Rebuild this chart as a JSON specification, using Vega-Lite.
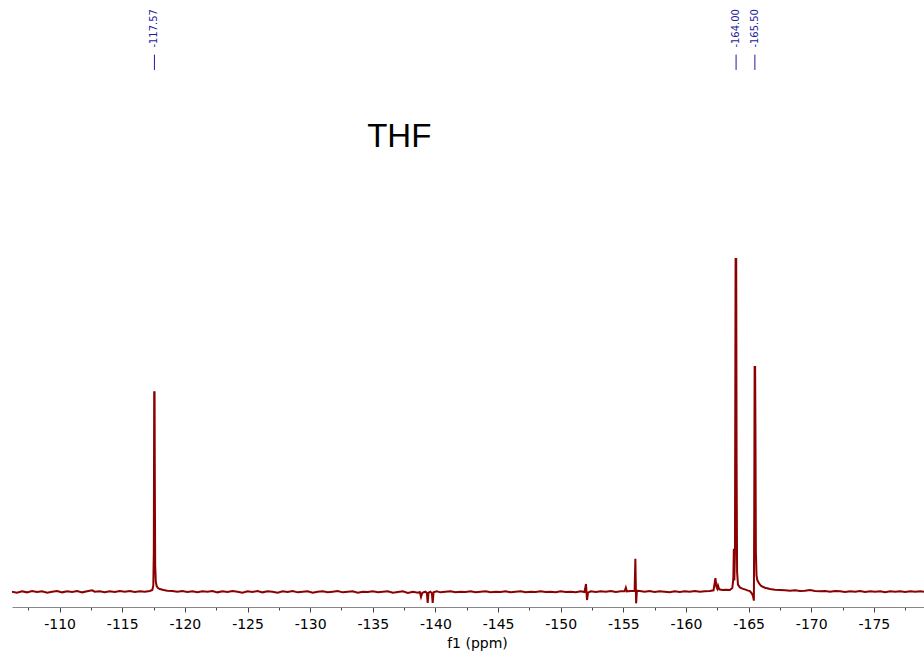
{
  "$schema": "https://vega.github.io/schema/vega-lite/v6.json",
  "autosize": "none",
  "width": 912,
  "height": 607,
  "padding": {"left": 12, "top": 0, "right": 0, "bottom": 47},
  "background": "white",
  "config": {
    "view": {"stroke": null},
    "axisX": {
      "grid": false,
      "domainColor": "#888888",
      "domainWidth": 1,
      "tickColor": "#444444",
      "tickWidth": 1,
      "labelFont": "DejaVu Sans",
      "labelFontSize": 14,
      "labelColor": "#000000",
      "labelPadding": 5,
      "labelOverlap": false,
      "titleFont": "DejaVu Sans",
      "titleFontSize": 14,
      "titleFontWeight": "normal",
      "titleColor": "#000000",
      "titleX": 465,
      "titleY": 36,
      "titleAlign": "center",
      "titleBaseline": "middle"
    }
  },
  "datasets": {
    "spectrum": [
      {"ppm": -106.2, "i": 0.1}, {"ppm": -106.6, "i": -0.2}, {"ppm": -107.0, "i": 0.2}, {"ppm": -107.4, "i": -0.1},
      {"ppm": -107.8, "i": 0.3}, {"ppm": -108.2, "i": 0.0}, {"ppm": -108.6, "i": 0.2}, {"ppm": -109.0, "i": -0.2},
      {"ppm": -109.4, "i": 0.1}, {"ppm": -109.8, "i": 0.3}, {"ppm": -110.2, "i": -0.1}, {"ppm": -110.6, "i": 0.2},
      {"ppm": -111.0, "i": 0.0}, {"ppm": -111.4, "i": 0.3}, {"ppm": -111.8, "i": -0.1}, {"ppm": -112.2, "i": 0.2},
      {"ppm": -112.6, "i": 0.5}, {"ppm": -112.8, "i": 0.1}, {"ppm": -113.2, "i": 0.2}, {"ppm": -113.6, "i": -0.1},
      {"ppm": -114.0, "i": 0.2}, {"ppm": -114.4, "i": 0.0}, {"ppm": -114.8, "i": 0.3}, {"ppm": -115.2, "i": 0.1},
      {"ppm": -115.6, "i": 0.3}, {"ppm": -116.0, "i": 0.0}, {"ppm": -116.4, "i": 0.2}, {"ppm": -116.8, "i": 0.1},
      {"ppm": -117.2, "i": 0.3}, {"ppm": -117.4, "i": 0.6}, {"ppm": -117.48, "i": 2}, {"ppm": -117.52, "i": 12},
      {"ppm": -117.55, "i": 60}, {"ppm": -117.58, "i": 60}, {"ppm": -117.6, "i": 35}, {"ppm": -117.63, "i": 8},
      {"ppm": -117.68, "i": 3}, {"ppm": -117.75, "i": 1.8}, {"ppm": -117.85, "i": 1.2}, {"ppm": -118.0, "i": 0.9},
      {"ppm": -118.3, "i": 0.6}, {"ppm": -118.6, "i": 0.4}, {"ppm": -119.0, "i": 0.3}, {"ppm": -119.4, "i": 0.1},
      {"ppm": -119.8, "i": 0.3}, {"ppm": -120.2, "i": 0.0}, {"ppm": -120.6, "i": 0.2}, {"ppm": -121.0, "i": -0.1},
      {"ppm": -121.4, "i": 0.2}, {"ppm": -121.8, "i": 0.1}, {"ppm": -122.2, "i": 0.3}, {"ppm": -122.6, "i": -0.1},
      {"ppm": -123.0, "i": 0.2}, {"ppm": -123.4, "i": 0.0}, {"ppm": -123.8, "i": 0.3}, {"ppm": -124.2, "i": 0.1},
      {"ppm": -124.6, "i": -0.2}, {"ppm": -125.0, "i": 0.2}, {"ppm": -125.4, "i": 0.0}, {"ppm": -125.8, "i": 0.3},
      {"ppm": -126.2, "i": -0.1}, {"ppm": -126.6, "i": 0.2}, {"ppm": -127.0, "i": 0.1}, {"ppm": -127.4, "i": -0.2},
      {"ppm": -127.8, "i": 0.2}, {"ppm": -128.2, "i": 0.0}, {"ppm": -128.6, "i": 0.3}, {"ppm": -129.0, "i": -0.1},
      {"ppm": -129.4, "i": 0.1}, {"ppm": -129.8, "i": 0.2}, {"ppm": -130.2, "i": -0.2}, {"ppm": -130.6, "i": 0.1},
      {"ppm": -131.0, "i": 0.2}, {"ppm": -131.4, "i": -0.1}, {"ppm": -131.8, "i": 0.1}, {"ppm": -132.2, "i": 0.3},
      {"ppm": -132.6, "i": -0.1}, {"ppm": -133.0, "i": 0.1}, {"ppm": -133.4, "i": 0.2}, {"ppm": -133.8, "i": -0.2},
      {"ppm": -134.2, "i": 0.1}, {"ppm": -134.6, "i": 0.0}, {"ppm": -135.0, "i": 0.2}, {"ppm": -135.4, "i": -0.1},
      {"ppm": -135.8, "i": 0.1}, {"ppm": -136.2, "i": 0.2}, {"ppm": -136.6, "i": -0.2}, {"ppm": -137.0, "i": 0.0},
      {"ppm": -137.4, "i": 0.2}, {"ppm": -137.8, "i": -0.3}, {"ppm": -138.2, "i": 0.1}, {"ppm": -138.6, "i": -0.2},
      {"ppm": -138.75, "i": 0.0}, {"ppm": -138.85, "i": -1.5}, {"ppm": -138.95, "i": -0.2}, {"ppm": -139.2, "i": 0.1},
      {"ppm": -139.32, "i": -0.3}, {"ppm": -139.38, "i": -3.3}, {"ppm": -139.45, "i": -0.2}, {"ppm": -139.6, "i": 0.1},
      {"ppm": -139.72, "i": -0.4}, {"ppm": -139.78, "i": -3.3}, {"ppm": -139.85, "i": -0.1}, {"ppm": -140.1, "i": 0.2},
      {"ppm": -140.4, "i": -0.1}, {"ppm": -140.8, "i": 0.1}, {"ppm": -141.2, "i": 0.2}, {"ppm": -141.6, "i": -0.1},
      {"ppm": -142.0, "i": 0.1}, {"ppm": -142.4, "i": 0.0}, {"ppm": -142.8, "i": 0.2}, {"ppm": -143.2, "i": -0.1},
      {"ppm": -143.6, "i": 0.1}, {"ppm": -144.0, "i": 0.2}, {"ppm": -144.4, "i": -0.1}, {"ppm": -144.8, "i": 0.1},
      {"ppm": -145.2, "i": 0.0}, {"ppm": -145.6, "i": 0.2}, {"ppm": -146.0, "i": -0.1}, {"ppm": -146.4, "i": 0.1},
      {"ppm": -146.8, "i": 0.2}, {"ppm": -147.2, "i": -0.1}, {"ppm": -147.6, "i": 0.1}, {"ppm": -148.0, "i": 0.0},
      {"ppm": -148.4, "i": 0.2}, {"ppm": -148.8, "i": 0.0}, {"ppm": -149.2, "i": 0.1}, {"ppm": -149.6, "i": -0.1},
      {"ppm": -150.0, "i": 0.2}, {"ppm": -150.4, "i": 0.0}, {"ppm": -150.8, "i": 0.1}, {"ppm": -151.2, "i": -0.1},
      {"ppm": -151.6, "i": 0.2}, {"ppm": -151.9, "i": 0.0}, {"ppm": -152.02, "i": 2.4}, {"ppm": -152.1, "i": -2.4},
      {"ppm": -152.18, "i": -0.2}, {"ppm": -152.4, "i": 0.2}, {"ppm": -152.8, "i": 0.0}, {"ppm": -153.2, "i": 0.2},
      {"ppm": -153.6, "i": 0.1}, {"ppm": -154.0, "i": 0.3}, {"ppm": -154.4, "i": 0.0}, {"ppm": -154.8, "i": 0.2},
      {"ppm": -155.1, "i": 0.2}, {"ppm": -155.2, "i": 1.3}, {"ppm": -155.28, "i": 0.2}, {"ppm": -155.6, "i": 0.3},
      {"ppm": -155.9, "i": 0.3}, {"ppm": -155.96, "i": 10}, {"ppm": -156.02, "i": -3.4}, {"ppm": -156.08, "i": 0.4},
      {"ppm": -156.3, "i": 0.3}, {"ppm": -156.7, "i": 0.1}, {"ppm": -157.1, "i": 0.3}, {"ppm": -157.5, "i": 0.0},
      {"ppm": -157.9, "i": 0.2}, {"ppm": -158.3, "i": 0.1}, {"ppm": -158.7, "i": -0.1}, {"ppm": -159.1, "i": 0.2},
      {"ppm": -159.5, "i": 0.0}, {"ppm": -159.9, "i": 0.2}, {"ppm": -160.3, "i": 0.1}, {"ppm": -160.7, "i": 0.3},
      {"ppm": -161.1, "i": 0.1}, {"ppm": -161.5, "i": 0.2}, {"ppm": -161.9, "i": 0.3}, {"ppm": -162.2, "i": 0.5},
      {"ppm": -162.35, "i": 4.2}, {"ppm": -162.43, "i": 1.6}, {"ppm": -162.5, "i": 1.0}, {"ppm": -162.56, "i": 1.9},
      {"ppm": -162.65, "i": 0.8}, {"ppm": -162.9, "i": 0.6}, {"ppm": -163.2, "i": 0.7}, {"ppm": -163.5, "i": 0.6},
      {"ppm": -163.7, "i": 1.2}, {"ppm": -163.78, "i": 4}, {"ppm": -163.82, "i": 13}, {"ppm": -163.86, "i": 3.5},
      {"ppm": -163.91, "i": 12}, {"ppm": -163.96, "i": 100}, {"ppm": -164.01, "i": 100}, {"ppm": -164.04, "i": 40},
      {"ppm": -164.08, "i": 6}, {"ppm": -164.15, "i": 2.2}, {"ppm": -164.3, "i": 1.4}, {"ppm": -164.5, "i": 1.0},
      {"ppm": -164.7, "i": 0.8}, {"ppm": -164.9, "i": 0.5}, {"ppm": -165.1, "i": 0.3}, {"ppm": -165.25, "i": -0.4},
      {"ppm": -165.35, "i": -1.2}, {"ppm": -165.42, "i": -2.6}, {"ppm": -165.45, "i": 25}, {"ppm": -165.48, "i": 67.6},
      {"ppm": -165.52, "i": 67.6}, {"ppm": -165.55, "i": 45}, {"ppm": -165.58, "i": 12}, {"ppm": -165.63, "i": 5},
      {"ppm": -165.7, "i": 3.5}, {"ppm": -165.85, "i": 2.5}, {"ppm": -166.0, "i": 1.8}, {"ppm": -166.3, "i": 1.3},
      {"ppm": -166.7, "i": 0.9}, {"ppm": -167.1, "i": 0.7}, {"ppm": -167.5, "i": 0.6}, {"ppm": -167.9, "i": 0.5},
      {"ppm": -168.3, "i": 0.4}, {"ppm": -168.7, "i": 0.5}, {"ppm": -169.1, "i": 0.3}, {"ppm": -169.5, "i": 0.4},
      {"ppm": -169.9, "i": 0.6}, {"ppm": -170.3, "i": 0.3}, {"ppm": -170.7, "i": 0.2}, {"ppm": -171.1, "i": 0.3},
      {"ppm": -171.5, "i": 0.1}, {"ppm": -171.9, "i": 0.3}, {"ppm": -172.3, "i": 0.2}, {"ppm": -172.7, "i": 0.0},
      {"ppm": -173.1, "i": 0.2}, {"ppm": -173.5, "i": 0.1}, {"ppm": -173.9, "i": 0.3}, {"ppm": -174.3, "i": 0.0},
      {"ppm": -174.7, "i": 0.2}, {"ppm": -175.1, "i": 0.1}, {"ppm": -175.5, "i": 0.2}, {"ppm": -175.9, "i": -0.1},
      {"ppm": -176.3, "i": 0.2}, {"ppm": -176.7, "i": 0.1}, {"ppm": -177.1, "i": 0.2}, {"ppm": -177.5, "i": 0.0},
      {"ppm": -177.9, "i": 0.2}, {"ppm": -178.3, "i": 0.1}, {"ppm": -178.7, "i": 0.2}, {"ppm": -179.0, "i": 0.1}
    ],
    "peaks": [
      {"ppm": -117.57, "label": "-117.57"},
      {"ppm": -164.0, "label": "-164.00"},
      {"ppm": -165.5, "label": "-165.50"}
    ],
    "notes": [{"note": "THF"}]
  },
  "layer": [
    {
      "data": {"name": "spectrum"},
      "mark": {"type": "line", "color": "#8b0000", "strokeWidth": 2, "clip": true},
      "encoding": {
        "x": {
          "field": "ppm",
          "type": "quantitative",
          "scale": {"domain": [-179, -106.2], "reverse": true, "nice": false, "zero": false},
          "axis": {
            "title": "f1 (ppm)",
            "values": [-107.5, -110, -112.5, -115, -117.5, -120, -122.5, -125, -127.5, -130, -132.5, -135, -137.5, -140, -142.5, -145, -147.5, -150, -152.5, -155, -157.5, -160, -162.5, -165, -167.5, -170, -172.5, -175, -177.5],
            "labelExpr": "datum.value % 5 === 0 ? toString(datum.value) : ''",
            "tickSize": {"condition": {"test": "datum.value % 5 === 0", "value": 5}, "value": 3}
          }
        },
        "y": {
          "field": "i",
          "type": "quantitative",
          "scale": {"domain": [-4.5, 177.8], "nice": false, "zero": false},
          "axis": null
        }
      }
    },
    {
      "data": {"name": "peaks"},
      "mark": {"type": "rule", "color": "#1c1c9c", "strokeWidth": 1},
      "encoding": {
        "x": {
          "field": "ppm",
          "type": "quantitative",
          "axis": {
            "title": "f1 (ppm)",
            "values": [-107.5, -110, -112.5, -115, -117.5, -120, -122.5, -125, -127.5, -130, -132.5, -135, -137.5, -140, -142.5, -145, -147.5, -150, -152.5, -155, -157.5, -160, -162.5, -165, -167.5, -170, -172.5, -175, -177.5],
            "labelExpr": "datum.value % 5 === 0 ? toString(datum.value) : ''",
            "tickSize": {"condition": {"test": "datum.value % 5 === 0", "value": 5}, "value": 3}
          }
        },
        "y": {"datum": 156.8, "type": "quantitative"},
        "y2": {"datum": 161.4}
      }
    },
    {
      "data": {"name": "peaks"},
      "mark": {"type": "text", "color": "#1c1c9c", "angle": 270, "align": "left", "baseline": "middle", "font": "DejaVu Sans", "fontSize": 10},
      "encoding": {
        "x": {
          "field": "ppm",
          "type": "quantitative",
          "axis": {
            "title": "f1 (ppm)",
            "values": [-107.5, -110, -112.5, -115, -117.5, -120, -122.5, -125, -127.5, -130, -132.5, -135, -137.5, -140, -142.5, -145, -147.5, -150, -152.5, -155, -157.5, -160, -162.5, -165, -167.5, -170, -172.5, -175, -177.5],
            "labelExpr": "datum.value % 5 === 0 ? toString(datum.value) : ''",
            "tickSize": {"condition": {"test": "datum.value % 5 === 0", "value": 5}, "value": 3}
          }
        },
        "y": {"datum": 163.5, "type": "quantitative"},
        "text": {"field": "label"}
      }
    },
    {
      "data": {"name": "notes"},
      "mark": {"type": "text", "color": "#000000", "align": "left", "baseline": "middle", "font": "Liberation Sans", "fontSize": 33},
      "encoding": {
        "x": {
          "datum": -134.55,
          "type": "quantitative",
          "axis": {
            "title": "f1 (ppm)",
            "values": [-107.5, -110, -112.5, -115, -117.5, -120, -122.5, -125, -127.5, -130, -132.5, -135, -137.5, -140, -142.5, -145, -147.5, -150, -152.5, -155, -157.5, -160, -162.5, -165, -167.5, -170, -172.5, -175, -177.5],
            "labelExpr": "datum.value % 5 === 0 ? toString(datum.value) : ''",
            "tickSize": {"condition": {"test": "datum.value % 5 === 0", "value": 5}, "value": 3}
          }
        },
        "y": {"datum": 136.6, "type": "quantitative"},
        "text": {"field": "note"}
      }
    }
  ]
}
